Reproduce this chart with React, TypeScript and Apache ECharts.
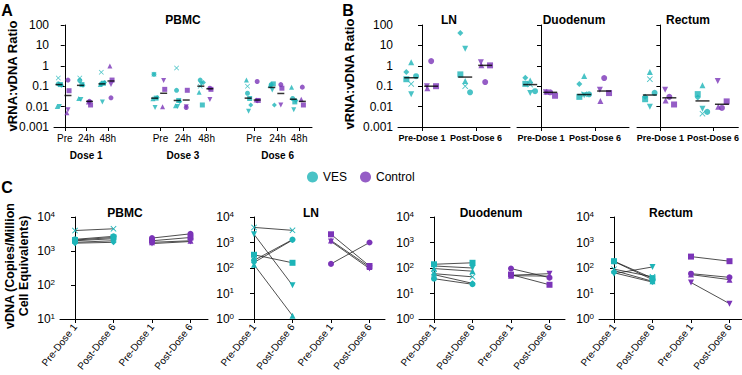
import React, { useEffect, useRef } from 'react';
import * as echarts from 'echarts';

const TEAL = '#1db4b8';
const PURPLE = '#7b34b8';
const FONT = '"Liberation Sans", Arial, sans-serif';

const DOWN = 'path://M0,0 L10,0 L5,9 Z';
const CROSS = 'path://M1,0 L5,4 L9,0 L10,1 L6,5 L10,9 L9,10 L5,6 L1,10 L0,9 L4,5 L0,1 Z';
const VES_SYM = ['circle', 'rect', 'triangle', DOWN, 'diamond', CROSS];
const CTRL_SYM = ['circle', 'rect', 'triangle', DOWN];

// ---------- Panel A: PBMC vRNA:vDNA ratio ----------
const A_TIMEPOINTS = ['Pre', '24h', '48h', 'Pre', '24h', '48h', 'Pre', '24h', '48h'];
const A_DOSES = ['Dose 1', 'Dose 3', 'Dose 6'];
const A_VES = [
  [0.13, 0.12, 0.01, 0.01, 0.11, 0.25],
  [0.19, 0.12, 0.025, 0.022, 0.11, 0.25],
  [0.13, 0.14, 0.12, 0.017, 0.15, 0.48],
  [0.38, 0.026, 0.024, 0.009, 0.028, 0.38],
  [0.063, 0.02, 0.011, 0.01, 0.018, 0.78],
  [0.2, 0.012, 0.05, 0.13, 0.15, 0.1],
  [0.045, 0.025, 0.2, 0.006, 0.012, 0.1],
  [0.12, 0.13, 0.11, 0.065, 0.012, null],
  [0.025, 0.017, 0.09, 0.007, 0.02, null],
];
const A_CTRL = [
  [0.2, 0.06, 0.005, 0.007],
  [0.018, 0.012, 0.017, 0.016],
  [0.027, 0.2, 0.97, 0.12],
  [null, 0.07, 0.0097, 0.19],
  [0.009, 0.063, null, 0.0098],
  [0.08, 0.07, null, 0.022],
  [0.17, 0.02, 0.021, 0.019],
  [0.12, 0.08, null, 0.012],
  [0.09, 0.012, 0.023, null],
];
const A_VES_MEDIAN = [0.12, 0.11, 0.13, 0.026, 0.02, 0.1, 0.026, 0.087, 0.023];
const A_CTRL_MEDIAN = [0.035, 0.018, 0.18, 0.045, 0.021, 0.075, 0.021, 0.044, 0.018];

// ---------- Panel B: tissue vRNA:vDNA ratio ----------
const B_TISSUES = ['LN', 'Duodenum', 'Rectum'];
const B_TIMEPOINTS = ['Pre-Dose 1', 'Post-Dose 6'];
const B_VES_PRE = [
  [0.31, 0.22, 1.48, 0.04, 0.5, 0.13],
  [0.057, 0.13, 0.19, 0.046, 0.26, 0.12],
  [0.047, 0.023, 0.5, 0.0097, 0.03, 0.22],
];
const B_VES_POST = [
  [0.05, 0.38, 0.18, 6.9, 40, 0.1],
  [0.04, 0.03, 0.32, 0.036, 0.13, 0.04],
  [0.0055, 0.041, 0.11, 0.0079, 0.028, 0.0045],
];
const B_CTRL_PRE = [
  [1.7, 0.1, 0.08, 0.1],
  [0.05, 0.034, 0.053, 0.05],
  [0.03, 0.0127, 0.02, 0.067],
];
const B_CTRL_POST = [
  [0.16, 1.05, 1.05, 1.5],
  [0.25, 0.046, 0.019, 0.067],
  [0.0086, 0.018, 0.0097, 0.18],
];
const B_VES_MEDIAN = [[0.26, 0.28], [0.12, 0.039], [0.037, 0.019]];
const B_CTRL_MEDIAN = [[0.1, 1.05], [0.05, 0.058], [0.027, 0.013]];

// ---------- Panel C: vDNA copies ----------
const C_TISSUES = ['PBMC', 'LN', 'Duodenum', 'Rectum'];
const C_LABELS = ['Pre-Dose 1', 'Post-Dose 6', 'Pre-Dose 1', 'Post-Dose 6'];
const C_VES_PRE = [
  [2200, 2100, 2000, 1800, 1700, 4000],
  [200, 330, 135, 2100, 165, 3900],
  [38, 140, 95, 120, 55, 60],
  [180, 185, 80, 60, 65, 90],
];
const C_VES_POST = [
  [2700, 2500, 2300, 2000, 1800, 4500],
  [1300, 160, 1.35, 21, 1250, 3000],
  [23, 160, 75, 100, 25, 45],
  [35, 40, 30, 110, 28, 45],
];
const C_CTRL_PRE = [
  [2400, 2000, 1800, 1650],
  [145, 2100, 1200, 1100],
  [95, 55, 50, 52],
  [60, 280, 55, 27],
];
const C_CTRL_POST = [
  [3200, 2500, 2000, 1900],
  [1000, 120, 110, 95],
  [42, 22, 48, 60],
  [43, 185, 35, 4],
];
const C_YMIN = [10, 1, 1, 1];

// ---------- layout constants ----------
const A_XPOS = [0, 1, 2, 4.45, 5.5, 6.6, 8.8, 9.9, 10.9];
const A_DOSE_POS = [1, 5.5, 9.9];
const A_VES_OFF = [-0.3, -0.2, -0.35, -0.25, -0.15, -0.3];
const A_CTRL_OFF = [0.15, 0.2, 0.1, 0.15];
const B_VES_OFF = [-0.11, -0.29, -0.2, -0.2, -0.29, -0.2];
const B_CTRL_OFF = [0.17, 0.26, 0.1, 0.09];
const B_LEFT = [398, 517, 637];
const B_WIDTH = [112, 112, 104];
const C_LEFT = [60, 239, 419, 599];
const C_WIDTH = [148, 146, 146, 143];

const lineStyle = { color: '#000', width: 1 };

function ratioFmt(v: number) {
  return String(Number(v.toPrecision(2)));
}

function ratioY(gridIndex: number, showLabels: boolean) {
  return {
    type: 'log', logBase: 10, min: 0.001, max: 100, gridIndex,
    axisLine: { show: true, lineStyle },
    axisTick: { show: true, length: 4, lineStyle },
    minorTick: { show: false },
    splitLine: { show: false },
    axisLabel: { show: showLabels, fontSize: 12, color: '#000', fontFamily: FONT, margin: 5, formatter: ratioFmt },
  };
}

function points(vals: (number | null)[], syms: string[], x: number, offs: number[]) {
  const out: any[] = [];
  vals.forEach((v, i) => {
    if (v != null) out.push({ value: [x + offs[i], v], symbol: syms[i] });
  });
  return out;
}

function buildOption() {
  const grid: any[] = [];
  const xAxis: any[] = [];
  const yAxis: any[] = [];
  const series: any[] = [];

  // Panel A
  grid.push({ left: 54, top: 25, width: 258, height: 102 });
  xAxis.push({
    type: 'value', gridIndex: 0, min: -0.5, max: 11.5,
    axisLine: { show: true, onZero: false, lineStyle },
    axisTick: { show: true, length: 4, lineStyle, customValues: A_XPOS },
    splitLine: { show: false },
    axisLabel: {
      customValues: A_XPOS, showMinLabel: true, showMaxLabel: true,
      fontSize: 10, color: '#000', fontFamily: FONT, margin: 6,
      formatter: (v: number) => A_TIMEPOINTS[A_XPOS.findIndex((p) => Math.abs(p - v) < 1e-6)] ?? '',
    },
  });
  xAxis.push({
    type: 'value', gridIndex: 0, min: -0.5, max: 11.5, position: 'bottom', offset: 15,
    axisLine: { show: false }, axisTick: { show: false }, splitLine: { show: false },
    axisLabel: {
      customValues: A_DOSE_POS, showMinLabel: true, showMaxLabel: true,
      fontSize: 10, fontWeight: 'bold', color: '#000', fontFamily: FONT,
      formatter: (v: number) => A_DOSES[A_DOSE_POS.findIndex((p) => Math.abs(p - v) < 1e-6)] ?? '',
    },
  });
  yAxis.push(ratioY(0, true));
  const aVes: any[] = [], aCtrl: any[] = [], aMed: any[] = [];
  A_XPOS.forEach((x, g) => {
    aVes.push(...points(A_VES[g], VES_SYM, x, A_VES_OFF));
    aCtrl.push(...points(A_CTRL[g], CTRL_SYM, x, A_CTRL_OFF));
    aMed.push([x - 0.27, A_VES_MEDIAN[g]]);
    aMed.push([x + 0.15, A_CTRL_MEDIAN[g]]);
  });
  series.push({ type: 'scatter', name: 'VES', xAxisIndex: 0, yAxisIndex: 0, symbolSize: 5, itemStyle: { color: TEAL }, data: aVes });
  series.push({ type: 'scatter', name: 'Control', xAxisIndex: 0, yAxisIndex: 0, symbolSize: 5, itemStyle: { color: PURPLE }, data: aCtrl });
  series.push({ type: 'scatter', name: 'median', xAxisIndex: 0, yAxisIndex: 0, symbol: 'rect', symbolSize: [7, 1.5], itemStyle: { color: '#000' }, z: 5, data: aMed });

  // Panel B
  B_TISSUES.forEach((t, k) => {
    const gi = grid.length;
    grid.push({ left: B_LEFT[k], top: 25, width: B_WIDTH[k], height: 102 });
    const xi = xAxis.length;
    const unit = 54;
    xAxis.push({
      type: 'value', gridIndex: gi, min: -24 / unit, max: (B_WIDTH[k] - 24) / unit,
      axisLine: { show: true, onZero: false, lineStyle },
      axisTick: { show: true, length: 4, lineStyle, customValues: [0, 1] },
      splitLine: { show: false },
      axisLabel: {
        customValues: [0, 1], showMinLabel: true, showMaxLabel: true, hideOverlap: false,
        fontSize: 9, fontWeight: 'bold', color: '#000', fontFamily: FONT, margin: 6,
        formatter: (v: number) => B_TIMEPOINTS[Math.round(v)],
      },
    });
    const yi = yAxis.length;
    yAxis.push(ratioY(gi, k === 0));
    const ves = [...points(B_VES_PRE[k], VES_SYM, 0, B_VES_OFF), ...points(B_VES_POST[k], VES_SYM, 1, B_VES_OFF)];
    const ctrl = [...points(B_CTRL_PRE[k], CTRL_SYM, 0, B_CTRL_OFF), ...points(B_CTRL_POST[k], CTRL_SYM, 1, B_CTRL_OFF)];
    const med = [
      [-0.2, B_VES_MEDIAN[k][0]], [0.8, B_VES_MEDIAN[k][1]],
      [0.17, B_CTRL_MEDIAN[k][0]], [1.17, B_CTRL_MEDIAN[k][1]],
    ];
    series.push({ type: 'scatter', name: 'VES', xAxisIndex: xi, yAxisIndex: yi, symbolSize: 6, itemStyle: { color: TEAL }, data: ves });
    series.push({ type: 'scatter', name: 'Control', xAxisIndex: xi, yAxisIndex: yi, symbolSize: 6, itemStyle: { color: PURPLE }, data: ctrl });
    series.push({ type: 'scatter', name: 'median', xAxisIndex: xi, yAxisIndex: yi, symbol: 'rect', symbolSize: [14, 1.5], itemStyle: { color: '#000' }, z: 5, data: med });
  });

  // Panel C
  C_TISSUES.forEach((t, k) => {
    const gi = grid.length;
    grid.push({ left: C_LEFT[k], top: 217, width: C_WIDTH[k], height: 102 });
    const xi = xAxis.length;
    const unit = 38.5;
    xAxis.push({
      type: 'value', gridIndex: gi, min: -15 / unit, max: (C_WIDTH[k] - 15) / unit,
      axisLine: { show: true, onZero: false, lineStyle },
      axisTick: { show: true, length: 4, lineStyle, customValues: [0, 1, 2, 3] },
      splitLine: { show: false },
      axisLabel: {
        customValues: [0, 1, 2, 3], showMinLabel: true, showMaxLabel: true,
        fontSize: 10, color: '#000', fontFamily: FONT, rotate: 52, margin: 6,
        formatter: (v: number) => C_LABELS[Math.round(v)],
      },
    });
    const yi = yAxis.length;
    yAxis.push({
      type: 'log', logBase: 10, min: C_YMIN[k], max: 10000, gridIndex: gi,
      axisLine: { show: true, lineStyle },
      axisTick: { show: true, length: 4, lineStyle },
      minorTick: { show: false },
      splitLine: { show: false },
      axisLabel: {
        fontSize: 12, color: '#000', fontFamily: FONT, margin: 5,
        formatter: (v: number) => '{b|10}{s|' + Math.round(Math.log10(v)) + '}',
        rich: {
          b: { fontSize: 12, fontFamily: FONT, color: '#000' },
          s: { fontSize: 8, fontFamily: FONT, color: '#000', verticalAlign: 'top', padding: [0, 0, 6, 0] },
        },
      },
    });
    C_VES_PRE[k].forEach((pre, i) => {
      series.push({
        type: 'line', name: 'VES', xAxisIndex: xi, yAxisIndex: yi, symbol: VES_SYM[i], symbolSize: 6,
        itemStyle: { color: TEAL }, lineStyle: { color: '#222', width: 0.8 },
        data: [[0, pre], [1, C_VES_POST[k][i]]],
      });
    });
    C_CTRL_PRE[k].forEach((pre, i) => {
      series.push({
        type: 'line', name: 'Control', xAxisIndex: xi, yAxisIndex: yi, symbol: CTRL_SYM[i], symbolSize: 6,
        itemStyle: { color: PURPLE }, lineStyle: { color: '#222', width: 0.8 },
        data: [[2, pre], [3, C_CTRL_POST[k][i]]],
      });
    });
  });

  const txt = (x: number, y: number, text: string, size: number, extra: any = {}) => ({
    type: 'text', x, y,
    style: { text, fontSize: size, fontWeight: 'bold', fontFamily: FONT, fill: '#000', textAlign: 'center', textVerticalAlign: 'middle', ...extra.style },
    ...extra.el,
  });

  const graphic: any[] = [
    txt(7, 10, 'A', 16),
    txt(348, 10, 'B', 16),
    txt(7, 187, 'C', 16),
    txt(12, 76, 'vRNA:vDNA Ratio', 13, { el: { rotation: Math.PI / 2 } }),
    txt(349, 74, 'vRNA:vDNA Ratio', 13, { el: { rotation: Math.PI / 2 } }),
    txt(17, 266, 'vDNA (Copies/Million\nCell Equivalents)', 12.5, { el: { rotation: Math.PI / 2 }, style: { lineHeight: 14 } }),
    txt(183, 20, 'PBMC', 12),
    txt(449, 20, 'LN', 12),
    txt(574, 20, 'Duodenum', 12),
    txt(688, 20, 'Rectum', 12),
    txt(125, 213, 'PBMC', 12),
    txt(311, 213, 'LN', 12),
    txt(491, 213, 'Duodenum', 12),
    txt(671, 213, 'Rectum', 12),
  ];

  return {
    animation: false,
    backgroundColor: '#fff',
    textStyle: { fontFamily: FONT },
    legend: {
      data: [{ name: 'VES', icon: 'circle' }, { name: 'Control', icon: 'circle' }],
      left: 302, top: 166, itemWidth: 11, itemHeight: 11, itemGap: 13,
      textStyle: { fontSize: 12, color: '#000', fontFamily: FONT },
    },
    grid, xAxis, yAxis, series, graphic,
  };
}

export default function App() {
  const ref = useRef<HTMLDivElement>(null);
  useEffect(() => {
    const chart = echarts.init(ref.current!, null, { renderer: 'svg' });
    chart.setOption(buildOption() as any);
    return () => chart.dispose();
  }, []);
  return <div ref={ref} style={{ position: 'fixed', left: 0, top: 0, width: 742, height: 375, background: '#fff' }} />;
}
